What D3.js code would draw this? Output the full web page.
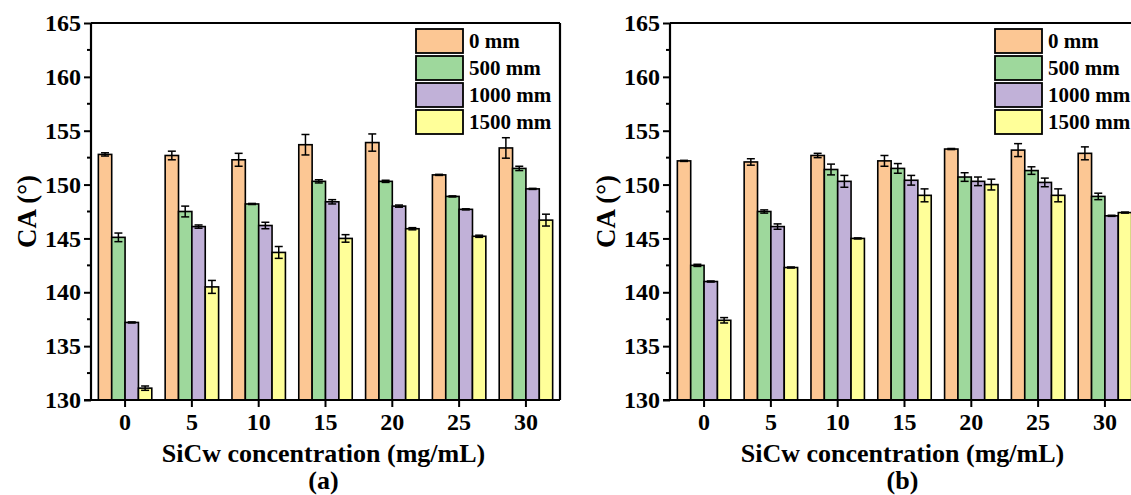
<!DOCTYPE html>
<html>
<head>
<meta charset="utf-8">
<script src="https://cdn.jsdelivr.net/npm/d3@7"></script>
<style>
  body { margin: 0; background: #fff; }
  svg { display: block; }
  svg text { font-family: "Times New Roman", "Liberation Serif", "DejaVu Serif", serif !important; font-weight: bold; fill: #000; }
</style>
</head>
<body>
<svg id="chart" width="1131" height="495"></svg>
<script>
// concentrations (mg/mL)
const categories = ["0", "5", "10", "15", "20", "25", "30"];
const seriesNames = ["0 mm", "500 mm", "1000 mm", "1500 mm"];
const colors = ["#FCC794", "#9ED89C", "#C1B1D8", "#FFFF99"];
const yTicks = [130, 135, 140, 145, 150, 155, 160, 165];

// panel (a)
const aMean = [
  [152.8, 152.7, 152.3, 153.7, 153.9, 150.9, 153.4],
  [145.1, 147.5, 148.2, 150.3, 150.3, 148.9, 151.5],
  [137.2, 146.1, 146.2, 148.4, 148.0, 147.7, 149.6],
  [131.1, 140.5, 143.7, 145.0, 145.9, 145.2, 146.7]
];
const aErr = [
  [0.15, 0.4, 0.6, 0.95, 0.8, 0.05, 0.95],
  [0.4, 0.5, 0.05, 0.15, 0.1, 0.05, 0.2],
  [0.05, 0.15, 0.3, 0.2, 0.1, 0.05, 0.05],
  [0.2, 0.6, 0.55, 0.35, 0.1, 0.1, 0.55]
];

// panel (b)
const bMean = [
  [152.2, 152.1, 152.7, 152.2, 153.3, 153.2, 152.9],
  [142.5, 147.5, 151.4, 151.5, 150.7, 151.3, 148.9],
  [141.0, 146.1, 150.3, 150.4, 150.3, 150.2, 147.1],
  [137.4, 142.3, 145.0, 149.0, 150.0, 149.0, 147.4]
];
const bErr = [
  [0.05, 0.3, 0.2, 0.5, 0.05, 0.6, 0.6],
  [0.1, 0.15, 0.5, 0.45, 0.4, 0.35, 0.3],
  [0.05, 0.25, 0.55, 0.45, 0.4, 0.4, 0.05],
  [0.25, 0.05, 0.05, 0.6, 0.5, 0.6, 0.05]
];

const svg = d3.select("#chart");
const W = 469, plotTop = 23, plotBottom = 400;

const y = d3.scaleLinear().domain([130, 165]).range([plotBottom, plotTop]);
const x = d3.scaleBand().domain(categories).range([0, W]).paddingInner(0.2).paddingOuter(0.11);
const xs = d3.scaleBand().domain(seriesNames).range([0, x.bandwidth()]);

function panel(left, mean, err, tag) {
  const g = svg.append("g").attr("transform", `translate(${left},0)`);

  // bars
  seriesNames.forEach((s, si) => {
    const rows = categories.map((c, ci) => ({ c, v: mean[si][ci], e: err[si][ci] }));
    const sg = g.append("g");
    sg.selectAll("rect").data(rows).join("rect")
      .attr("x", d => x(d.c) + xs(s))
      .attr("y", d => y(d.v))
      .attr("width", xs.bandwidth())
      .attr("height", d => plotBottom - y(d.v))
      .attr("fill", colors[si])
      .attr("stroke", "#000")
      .attr("stroke-width", 1.6);

    const eb = sg.selectAll("g.err").data(rows).join("g").attr("class", "err")
      .attr("transform", d => `translate(${x(d.c) + xs(s) + xs.bandwidth() / 2},0)`)
      .attr("stroke", "#000").attr("stroke-width", 1.5);
    eb.append("line").attr("y1", d => y(d.v - d.e)).attr("y2", d => y(d.v + d.e));
    eb.append("line").attr("x1", -4).attr("x2", 4).attr("y1", d => y(d.v + d.e)).attr("y2", d => y(d.v + d.e));
    eb.append("line").attr("x1", -4).attr("x2", 4).attr("y1", d => y(d.v - d.e)).attr("y2", d => y(d.v - d.e));
  });

  // frame
  g.append("line").attr("x1", 0).attr("x2", W).attr("y1", plotTop).attr("y2", plotTop)
    .attr("stroke", "#000").attr("stroke-width", 2.2);
  g.append("line").attr("x1", W).attr("x2", W).attr("y1", plotTop).attr("y2", plotBottom)
    .attr("stroke", "#000").attr("stroke-width", 2.2);

  // y axis
  const ya = g.append("g").call(d3.axisLeft(y).tickValues(yTicks).tickSize(7).tickPadding(3));
  ya.selectAll(".tick text").attr("font-size", 24);
  ya.selectAll(".minor").data(yTicks.slice(0, -1).map(v => v + 2.5)).join("line")
    .attr("class", "minor").attr("x1", -4).attr("x2", 0)
    .attr("y1", d => y(d)).attr("y2", d => y(d)).attr("stroke", "#000").attr("stroke-width", 2);

  // x axis
  const xa = g.append("g").attr("transform", `translate(0,${plotBottom})`)
    .call(d3.axisBottom(x).tickSize(7).tickPadding(6));
  xa.selectAll(".tick text").attr("font-size", 24);

  [ya, xa].forEach(a => {
    a.select(".domain").attr("stroke-width", 2.2).attr("stroke", "#000");
    a.selectAll(".tick line").attr("stroke-width", 2).attr("stroke", "#000");
  });
  ya.select(".domain").attr("d", `M0,${plotBottom}V${plotTop}`);
  xa.select(".domain").attr("d", `M-7,0H${W}`);

  // axis titles
  g.append("text").attr("transform", `translate(-55,${(plotTop + plotBottom) / 2}) rotate(-90)`)
    .attr("text-anchor", "middle").attr("font-size", 27).text("CA (°)");
  g.append("text").attr("x", W / 2 - 2).attr("y", 462).attr("text-anchor", "middle")
    .attr("font-size", 26).text("SiCw concentration (mg/mL)");
  g.append("text").attr("x", W / 2 - 2).attr("y", 489).attr("text-anchor", "middle")
    .attr("font-size", 26).text(tag);

  // legend
  const lg = g.append("g").attr("transform", "translate(325,29)");
  const item = lg.selectAll("g").data(seriesNames).join("g")
    .attr("transform", (d, i) => `translate(0,${i * 27})`);
  item.append("rect").attr("width", 47).attr("height", 24)
    .attr("fill", (d, i) => colors[i]).attr("stroke", "#000").attr("stroke-width", 1.8);
  item.append("text").attr("x", 53).attr("y", 19).attr("font-size", 21).text(d => d);
}

panel(91, aMean, aErr, "(a)");
panel(670, bMean, bErr, "(b)");
</script>
</body>
</html>
